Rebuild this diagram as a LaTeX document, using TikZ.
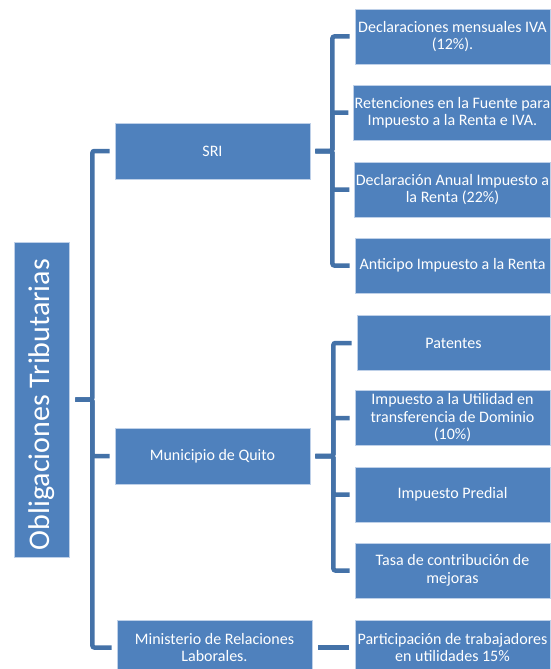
\documentclass[tikz,border=0pt]{standalone}
\usepackage{fontspec}
\setmainfont{Carlito}
\definecolor{boxblue}{RGB}{79,129,189}
\definecolor{lineblue}{RGB}{68,114,168}
\definecolor{edgeblue}{RGB}{190,208,232}
\begin{document}
\begin{tikzpicture}[x=1pt,y=-1pt,
  box/.style={draw=edgeblue,line width=0.8pt,fill=boxblue,text=white,
    minimum width=195pt,minimum height=55pt,inner sep=1pt,align=center,
    font=\fontsize{16}{17.5}\selectfont},
  conn/.style={draw=lineblue,line width=4.5pt,rounded corners=2pt}]
\useasboundingbox (0,0) rectangle (551,669);
% root
\node[box,minimum width=55pt,minimum height=315pt,
  font=\fontsize{30}{34}\selectfont] (root) at (41.5,399.5) {\rotatebox{90}{Obligaciones Tributarias\hspace{10pt}}};
% second level
\node[box,minimum height=56pt] (sri) at (212.5,151) {SRI};
\node[box,minimum height=56pt] (mun) at (212.5,456) {Municipio de Quito};
\node[box] (min) at (214.5,647.5) {Ministerio de Relaciones\\Laborales.};
% SRI children
\node[box] (s1) at (452.5,36.5) {Declaraciones mensuales IVA\\(12\%).};
\node[box] (s2) at (452.5,112.5) {Retenciones en la Fuente para\\Impuesto a la Renta e IVA.};
\node[box] (s3) at (452.5,189.5) {Declaración Anual Impuesto a\\la Renta (22\%)};
\node[box] (s4) at (452.5,265.5) {Anticipo Impuesto a la Renta};
% Municipio children
\node[box,minimum width=193pt] (m1) at (453.5,343) {Patentes};
\node[box] (m2) at (452.5,418) {Impuesto a la Utilidad en\\transferencia de Dominio\\(10\%)};
\node[box] (m3) at (452.5,494.5) {Impuesto Predial};
\node[box] (m4) at (452.5,570.5) {Tasa de contribución de\\mejoras};
% Ministerio child
\node[box] (p1) at (452.5,647.5) {Participación de trabajadores\\en utilidades 15\%};
% connectors root
\draw[conn] ([xshift=6pt]root.east) -- ++(17,0) |- ([xshift=-5pt]sri.west);
\draw[conn] ([xshift=6pt]root.east) -- ++(17,0) |- ([xshift=-5pt]mun.west);
\draw[conn] ([xshift=6pt]root.east) -- ++(17,0) |- ([xshift=-5pt]min.west);
% connectors SRI
\foreach \c in {s1,s2,s3,s4}
  \draw[conn] ([xshift=5pt]sri.east) -- ++(17,0) |- ([xshift=-5pt]\c.west);
% connectors Municipio
\foreach \c in {m1,m2,m3,m4}
  \draw[conn] ([xshift=5pt]mun.east) -- ++(18,0) |- ([xshift=-5pt]\c.west);
% Ministerio
\draw[conn] ([xshift=6pt]min.east) -- ([xshift=-6pt]p1.west);
\end{tikzpicture}
\end{document}
